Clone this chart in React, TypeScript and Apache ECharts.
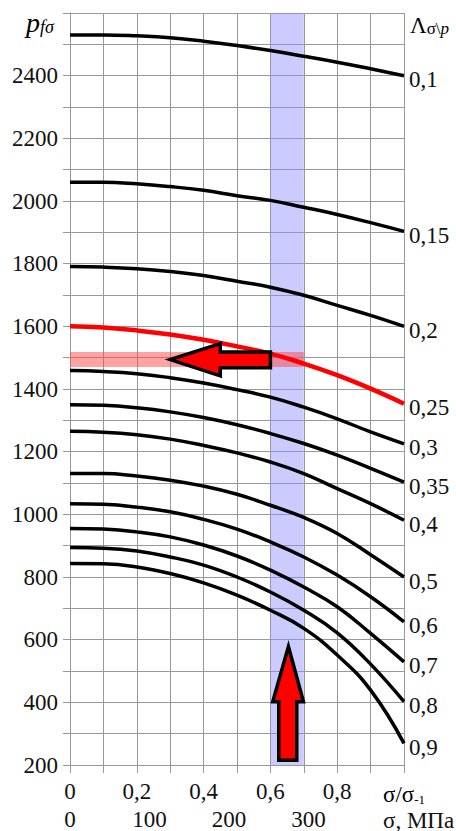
import React, { useEffect, useRef } from "react";
import * as echarts from "echarts";

// σ/σ-1 positions of the readings
const X_VALUES = [0, 0.1, 0.2, 0.3, 0.4, 0.5, 0.6, 0.7, 0.8, 0.9, 1.0];

// Λσ\p curve labels and p_fσ readings
const CURVE_NAMES = ["0,1", "0,15", "0,2", "0,25", "0,3", "0,35", "0,4", "0,5", "0,6", "0,7", "0,8", "0,9"];
const L01 = [2530, 2530, 2527, 2521, 2510, 2496, 2480, 2462, 2443, 2422, 2400];
const L015 = [2060, 2060, 2055, 2046, 2034, 2017, 2002, 1980, 1957, 1931, 1903];
const L02 = [1791, 1789, 1784, 1775, 1762, 1744, 1725, 1699, 1667, 1635, 1600];
const L025 = [1600, 1596, 1587, 1574, 1557, 1536, 1513, 1481, 1444, 1401, 1353];
const L03 = [1459, 1456, 1449, 1436, 1419, 1398, 1374, 1342, 1305, 1263, 1225];
const L035 = [1350, 1348, 1340, 1327, 1309, 1286, 1258, 1226, 1189, 1147, 1103];
const L04 = [1265, 1262, 1254, 1240, 1220, 1196, 1167, 1130, 1082, 1034, 981];
const L05 = [1130, 1130, 1122, 1109, 1090, 1064, 1029, 990, 939, 871, 800];
const L06 = [1034, 1032, 1023, 1008, 984, 953, 912, 864, 806, 737, 657];
const L07 = [955, 953, 944, 928, 902, 867, 822, 768, 705, 620, 529];
const L08 = [894, 892, 883, 864, 838, 800, 752, 694, 622, 522, 402];
const L09 = [843, 842, 832, 811, 781, 742, 694, 636, 551, 439, 269];
const CURVES = [L01, L015, L02, L025, L03, L035, L04, L05, L06, L07, L08, L09];
const HIGHLIGHT_INDEX = 3;

// axes
const Y_MIN = 200;
const Y_MAX = 2600;
const Y_STEP = 100;
const Y_LABEL_STEP = 200;
const X_STEP = 0.1;
const SIGMA_MIN = 0;
const SIGMA_MAX = 420; // MPa at σ/σ-1 = 1
const SIGMA_STEP = 100;
const SIGMA_HIDDEN = [400];

// highlighted bands (data coordinates)
const BLUE_BAND_X = [0.6, 0.7];
const RED_BAND = { x: [0, 0.7], y: [1470, 1518] };

// arrows (vertices in data coordinates)
const ARROW_LEFT = [
  [0.6, 1518], [0.45, 1518], [0.45, 1545], [0.3, 1494], [0.45, 1442], [0.45, 1468], [0.6, 1468],
];
const ARROW_UP = [
  [0.625, 215], [0.625, 402], [0.607, 402], [0.654, 578], [0.699, 402], [0.679, 402], [0.679, 215],
];
const ARROWS = [ARROW_LEFT, ARROW_UP];

const SERIF = "Liberation Serif";
const FS = 23;
const RICH = { t: { fontFamily: SERIF, fontSize: FS, color: "#111" } };
const wrap = (s: string) => (s === "" ? "" : `{t|${s}}`);

export default function App() {
  const ref = useRef<HTMLDivElement>(null);

  useEffect(() => {
    if (!ref.current) return;
    const chart = echarts.init(ref.current, null, { renderer: "svg" });

    const lineSeries = CURVES.map((vals, i) => ({
      type: "line",
      name: CURVE_NAMES[i],
      data: X_VALUES.map((x, k) => [x, vals[k]]),
      smooth: 0.45,
      showSymbol: false,
      symbol: "none",
      z: 3,
      lineStyle: {
        color: i === HIGHLIGHT_INDEX ? "#ff0000" : "#000000",
        width: i === HIGHLIGHT_INDEX ? 4.5 : 3.5,
      },
      endLabel: {
        show: true,
        formatter: (p: any) => wrap(p.seriesName),
        rich: RICH,
        distance: 5,
        offset: [0, 4],
        fontFamily: SERIF,
        fontSize: FS,
        color: "#111",
      },
      silent: true,
    }));

    const option: any = {
      animation: false,
      textStyle: { fontFamily: SERIF },
      grid: { left: 70, right: 52, top: 13, bottom: 66, containLabel: false },
      xAxis: [
        {
          type: "value",
          min: 0,
          max: 1,
          interval: X_STEP,
          position: "bottom",
          axisLine: { show: true, lineStyle: { color: "#999", width: 1 } },
          axisTick: { show: true, length: 8, inside: false, lineStyle: { color: "#999" } },
          splitLine: { show: true, lineStyle: { color: "#999", width: 1 } },
          axisLabel: {
            margin: 15,
            fontFamily: SERIF,
            fontSize: FS,
            color: "#111",
            rich: RICH,
            formatter: (v: number) => {
              const k = Math.round(v * 10);
              if (k % 2 !== 0 || k === 10) return "";
              if (k === 0) return wrap("0");
              return wrap((k / 10).toFixed(1).replace(".", ","));
            },
          },
        },
        {
          type: "value",
          min: SIGMA_MIN,
          max: SIGMA_MAX,
          interval: SIGMA_STEP,
          position: "bottom",
          axisLine: { show: false },
          axisTick: { show: false },
          splitLine: { show: false },
          axisLabel: {
            margin: 43,
            fontFamily: SERIF,
            fontSize: FS,
            color: "#111",
            rich: RICH,
            showMaxLabel: false,
            formatter: (v: number) => (SIGMA_HIDDEN.includes(v) ? "" : wrap(String(v))),
          },
        },
      ],
      yAxis: {
        type: "value",
        min: Y_MIN,
        max: Y_MAX,
        interval: Y_STEP,
        axisLine: { show: true, lineStyle: { color: "#999", width: 1 } },
        axisTick: { show: true, length: 7, inside: false, lineStyle: { color: "#999" } },
        splitLine: { show: true, lineStyle: { color: "#999", width: 1 } },
        axisLabel: {
          margin: 12,
          fontFamily: SERIF,
          fontSize: FS,
          color: "#111",
          rich: RICH,
          formatter: (v: number) => (v % Y_LABEL_STEP === 0 && v !== Y_MAX ? wrap(String(v)) : ""),
        },
      },
      series: [
        {
          type: "line",
          data: [],
          z: 1,
          silent: true,
          markArea: {
            silent: true,
            data: [
              [
                { xAxis: BLUE_BAND_X[0], itemStyle: { color: "rgba(140,140,255,0.45)" } },
                { xAxis: BLUE_BAND_X[1] },
              ],
              [
                { xAxis: RED_BAND.x[0], yAxis: RED_BAND.y[0], itemStyle: { color: "rgba(255,70,70,0.5)" } },
                { xAxis: RED_BAND.x[1], yAxis: RED_BAND.y[1] },
              ],
            ],
          },
        },
        ...lineSeries,
        {
          type: "custom",
          z: 5,
          silent: true,
          data: ARROWS.map((a, i) => [a[0][0], a[0][1], i]),
          encode: { x: 0, y: 1 },
          renderItem: (params: any, api: any) => {
            const pts = ARROWS[api.value(2)].map((p) => api.coord(p));
            return {
              type: "polygon",
              shape: { points: pts },
              style: { fill: "#ff0000", stroke: "#000000", lineWidth: 3.5, lineJoin: "miter" },
            };
          },
        },
      ],
      graphic: [
        {
          type: "text",
          x: 26,
          y: 22,
          style: {
            text: "{p|p}{s|fσ}",
            verticalAlign: "middle",
            rich: {
              p: { fontFamily: SERIF, fontSize: 28, fontStyle: "italic", color: "#111", lineHeight: 28, verticalAlign: "bottom" },
              s: { fontFamily: SERIF, fontSize: 18, fontStyle: "italic", color: "#111", lineHeight: 18, verticalAlign: "bottom" },
            },
          },
        },
        {
          type: "text",
          x: 410,
          y: 24,
          style: {
            text: "{L|Λ}{s|σ\\}{p|p}",
            verticalAlign: "middle",
            rich: {
              L: { fontFamily: SERIF, fontSize: 23, color: "#111", lineHeight: 26, verticalAlign: "bottom" },
              s: { fontFamily: SERIF, fontSize: 17, color: "#111", lineHeight: 16, verticalAlign: "bottom" },
              p: { fontFamily: SERIF, fontSize: 17, fontStyle: "italic", color: "#111", lineHeight: 16, verticalAlign: "bottom" },
            },
          },
        },
        {
          type: "text",
          x: 383,
          y: 793,
          style: {
            text: "{a|σ/σ}{b|-1}",
            verticalAlign: "middle",
            rich: {
              a: { fontFamily: SERIF, fontSize: 23, color: "#111", lineHeight: 26, verticalAlign: "bottom" },
              b: { fontFamily: SERIF, fontSize: 13, color: "#111", lineHeight: 12, verticalAlign: "bottom" },
            },
          },
        },
        {
          type: "text",
          x: 383,
          y: 820,
          style: {
            text: "σ, МПа",
            verticalAlign: "middle",
            fontFamily: SERIF,
            fontSize: 23,
            fill: "#111",
          },
        },
      ],
    };

    chart.setOption(option);
    return () => chart.dispose();
  }, []);

  return (
    <div
      ref={ref}
      style={{ position: "fixed", left: 0, top: 0, width: 456, height: 831, background: "#fff" }}
    />
  );
}
